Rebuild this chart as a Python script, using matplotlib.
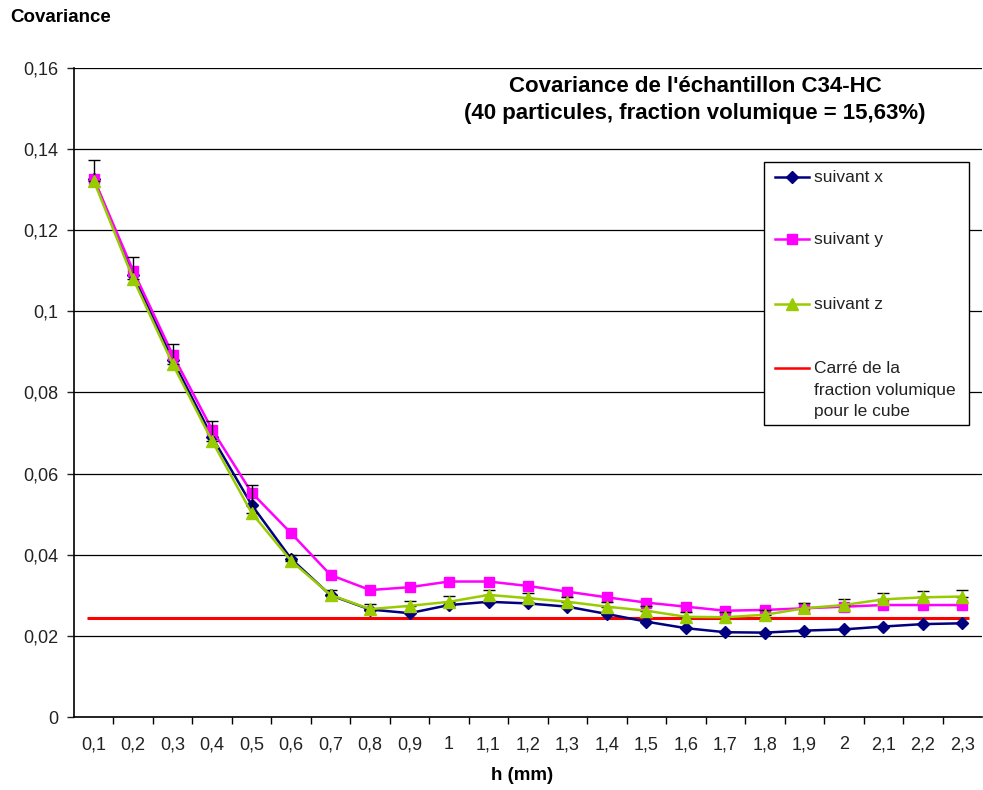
#Script: Covariance of sample C34-HC
import matplotlib.pyplot as plt
from matplotlib.lines import Line2D
from matplotlib.patches import Rectangle
import numpy as np

plt.rcParams['font.family'] = ['Liberation Sans', 'DejaVu Sans']

#Data
h_labels = ['0,1', '0,2', '0,3', '0,4', '0,5', '0,6', '0,7', '0,8', '0,9', '1', '1,1', '1,2',
            '1,3', '1,4', '1,5', '1,6', '1,7', '1,8', '1,9', '2', '2,1', '2,2', '2,3']
cov_x = [0.1327, 0.1090, 0.0880, 0.0690, 0.0523, 0.0390, 0.0300, 0.0265, 0.0256, 0.0276, 0.0284, 0.0280,
         0.0272, 0.0254, 0.0235, 0.0219, 0.0209, 0.0208, 0.0213, 0.0216, 0.0223, 0.0229, 0.0231]
cov_y = [0.1327, 0.1100, 0.0893, 0.0708, 0.0553, 0.0453, 0.0350, 0.0313, 0.0320, 0.0334, 0.0334, 0.0323,
         0.0309, 0.0295, 0.0282, 0.0272, 0.0262, 0.0264, 0.0268, 0.0272, 0.0276, 0.0276, 0.0276]
cov_z = [0.1322, 0.1080, 0.0870, 0.0680, 0.0503, 0.0385, 0.0301, 0.0266, 0.0274, 0.0284, 0.0301, 0.0293,
         0.0284, 0.0272, 0.0262, 0.0247, 0.0246, 0.0252, 0.0268, 0.0276, 0.0290, 0.0295, 0.0297]
err_z = [0.0050, 0.0054, 0.0050, 0.0050, 0.0069, 0.0015, 0.0011, 0.0013, 0.0013, 0.0014, 0.0012, 0.0012,
         0.0012, 0.0012, 0.0012, 0.0012, 0.0012, 0.0012, 0.0012, 0.0015, 0.0015, 0.0015, 0.0015]
carre_fraction = 0.1563 ** 2

navy = '#000080'
magenta = '#FF00FF'
green = '#99CC00'
red = '#FF0000'

W, H = 983, 790
fig = plt.figure(figsize=(W / 100, H / 100), dpi=100)
ax = fig.add_axes([74 / W, 1 - 717 / H, 908 / W, (717 - 68) / H])

xi = np.arange(len(h_labels))

#Curves
ax.hlines(carre_fraction, -0.18, len(h_labels) - 1 + 0.18, color=red, lw=2.2, zorder=2)
ax.plot(xi, cov_x, color=navy, lw=1.8, marker='D', ms=6.5, zorder=3)
ax.plot(xi, cov_y, color=magenta, lw=1.8, marker='s', ms=7.5, zorder=4)
ax.errorbar(xi, cov_z, yerr=[np.zeros(len(err_z)), err_z], color=green, lw=1.8, marker='^', ms=8.5,
            ecolor='black', elinewidth=1, capsize=4, capthick=1, zorder=5)

#Axes configuration
ax.set_xlim(-0.5, len(h_labels) - 0.5)
ax.set_ylim(0, 0.16)
ax.set_yticks(np.arange(0, 0.161, 0.02))
ax.set_yticklabels(['0', '0,02', '0,04', '0,06', '0,08', '0,1', '0,12', '0,14', '0,16'])
ax.set_xticks(xi)
ax.set_xticklabels(h_labels)
ax.set_xticks(np.arange(0.5, len(h_labels) - 0.5), minor=True)
ax.tick_params(axis='x', which='major', length=0, pad=14, labelsize=13, colors='#222222')
ax.tick_params(axis='x', which='minor', length=5, width=1, direction='out')
ax.tick_params(axis='y', length=5, width=1, direction='out', pad=6, labelsize=13, colors='#222222')
ax.grid(axis='y', color='black', lw=0.9)
ax.set_axisbelow(True)
for s in ['top', 'right']:
    ax.spines[s].set_visible(False)
for s in ['left', 'bottom']:
    ax.spines[s].set_linewidth(1.2)

#Texts
fig.text(10 / W, 1 - 17 / H, 'Covariance', fontsize=13.5, fontweight='bold', va='center', ha='left')
fig.text(522 / W, 1 - 775 / H, 'h (mm)', fontsize=13.5, fontweight='bold', va='center', ha='center')
fig.text(695 / W, 1 - 100 / H, "Covariance de l'échantillon C34-HC\n(40 particules, fraction volumique = 15,63%)",
         fontsize=16, fontweight='bold', va='center', ha='center', linespacing=1.35)

#Legend (drawn by hand, Excel-like layout)
def fx(px):
    return px / W

def fy(py):
    return 1 - py / H

fig.add_artist(Rectangle((fx(764), fy(425)), fx(969) - fx(764), fy(162) - fy(425),
                         transform=fig.transFigure, facecolor='white', edgecolor='black', lw=1))
entries = [('suivant x', navy, 'D', 6.5, 177),
           ('suivant y', magenta, 's', 7.5, 239),
           ('suivant z', green, '^', 8.5, 304),
           ('Carré de la\nfraction volumique\npour le cube', red, None, 0, 368)]
for label, col, mk, ms, py in entries:
    fig.add_artist(Line2D([fx(775), fx(792), fx(809)], [fy(py)] * 3, transform=fig.transFigure,
                          color=col, lw=1.8, marker=mk, ms=ms, markevery=[1]))
    fig.text(fx(814), fy(py - 7), label, fontsize=12.5, va='top', ha='left', linespacing=1.55,
             color='#222222')

plt.savefig('out.png', dpi=100)
